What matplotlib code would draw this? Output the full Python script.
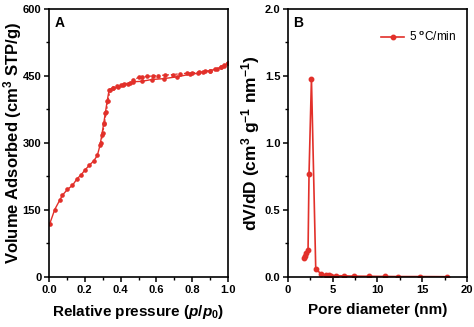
import matplotlib.pyplot as plt
from matplotlib.ticker import MultipleLocator

plt.rcParams['font.family'] = ['Liberation Sans', 'DejaVu Sans']
plt.rcParams['font.weight'] = 'bold'
plt.rcParams['mathtext.fontset'] = 'custom'
plt.rcParams['mathtext.rm'] = 'Liberation Sans:bold'
plt.rcParams['mathtext.it'] = 'Liberation Sans:bold:italic'

RED = '#e2302a'

# N2 isotherm, adsorption branch
ads_p = [0.004, 0.032, 0.06, 0.075, 0.103, 0.131, 0.157, 0.178, 0.2, 0.225, 0.25,
         0.27, 0.285, 0.295, 0.305, 0.315, 0.325, 0.336, 0.36, 0.387, 0.415, 0.44,
         0.47, 0.518, 0.574, 0.64, 0.714, 0.79, 0.83, 0.862, 0.9, 0.937, 0.96, 0.98, 1.0]
ads_v = [119, 151, 172, 183, 196, 205, 220, 228, 239, 250, 260,
         272, 295, 318, 342, 368, 394, 419, 423, 425, 429, 433,
         437, 438, 442, 444, 448, 454, 456, 459, 462, 466, 469, 473, 480]

# desorption branch
des_p = [1.0, 0.98, 0.96, 0.93, 0.9, 0.87, 0.84, 0.8, 0.77, 0.73, 0.69, 0.65, 0.61,
         0.58, 0.55, 0.52, 0.5, 0.47, 0.45, 0.42, 0.40, 0.38, 0.36, 0.34,
         0.33, 0.32, 0.31, 0.30, 0.29]
des_v = [480, 474, 469, 465, 462, 460, 458, 457, 456, 455, 453, 452, 451,
         450, 449, 448, 447, 440, 435, 432, 430, 427, 424, 418,
         395, 370, 345, 322, 300]

# BJH pore size distribution
pore_d = [1.79, 1.95, 2.06, 2.24, 2.35, 2.62, 3.1, 3.74, 4.2, 4.6, 4.85, 5.4,
          6.3, 7.4, 9.0, 10.8, 12.3, 14.7, 17.8]
dvdd = [0.141, 0.153, 0.178, 0.198, 0.77, 1.48, 0.06, 0.02, 0.015, 0.012, 0.01, 0.01,
        0.008, 0.006, 0.005, 0.004, 0.003, 0.003, 0.002]

fig = plt.figure(figsize=(4.74, 3.27), dpi=100)
ax1 = fig.add_axes([0.1034, 0.153, 0.3776, 0.8196])
ax2 = fig.add_axes([0.6076, 0.153, 0.3776, 0.8196])

ax1.plot(ads_p, ads_v, '-o', color=RED, lw=1.0, ms=2.3)
ax1.plot(des_p, des_v, '--o', color=RED, lw=0.9, ms=2.3, dashes=(2, 1.5))
ax1.set_xlim(0, 1.0)
ax1.set_ylim(0, 600)
ax1.xaxis.set_major_locator(MultipleLocator(0.2))
ax1.xaxis.set_minor_locator(MultipleLocator(0.1))
ax1.yaxis.set_major_locator(MultipleLocator(150))
ax1.yaxis.set_minor_locator(MultipleLocator(75))
ax1.set_xlabel('Relative pressure ($p$/$p_0$)', fontsize=11, fontweight='bold', labelpad=6)
ax1.set_ylabel('Volume Adsorbed (cm$^3$ STP/g)', fontsize=12, fontweight='bold')
ax1.yaxis.set_label_coords(-0.14, 0.5)
ax1.text(0.03, 0.975, 'A', transform=ax1.transAxes, fontsize=10, fontweight='bold', va='top')

ax2.plot(pore_d, dvdd, '-o', color=RED, lw=1.2, ms=3.2, label='5 $^{\\mathrm{o}}$C/min')
ax2.set_xlim(0, 20)
ax2.set_ylim(0, 2.0)
ax2.xaxis.set_major_locator(MultipleLocator(5))
ax2.xaxis.set_minor_locator(MultipleLocator(2.5))
ax2.yaxis.set_major_locator(MultipleLocator(0.5))
ax2.yaxis.set_minor_locator(MultipleLocator(0.25))
ax2.set_xlabel('Pore diameter (nm)', fontsize=11, fontweight='bold', labelpad=6)
ax2.set_ylabel('dV/dD (cm$^{3}$ g$^{-1}$ nm$^{-1}$)', fontsize=12.5, fontweight='bold')
ax2.yaxis.set_label_coords(-0.145, 0.5)
ax2.text(0.03, 0.975, 'B', transform=ax2.transAxes, fontsize=10, fontweight='bold', va='top')
leg = ax2.legend(loc='upper right', bbox_to_anchor=(1.0, 0.96), frameon=False,
                 fontsize=8.5, handlelength=2.0, handletextpad=0.4)
for t in leg.get_texts():
    t.set_fontweight('normal')

for ax in (ax1, ax2):
    for s in ax.spines.values():
        s.set_linewidth(1.2)
    ax.tick_params(which='major', direction='out', length=3.5, width=1.1, labelsize=8,
                   pad=2, top=False, right=False)
    ax.tick_params(which='minor', direction='out', length=2, width=1.0, top=False, right=False)
    for lab in ax.get_xticklabels() + ax.get_yticklabels():
        lab.set_fontweight('bold')

fig.savefig('out.png', dpi=100)
